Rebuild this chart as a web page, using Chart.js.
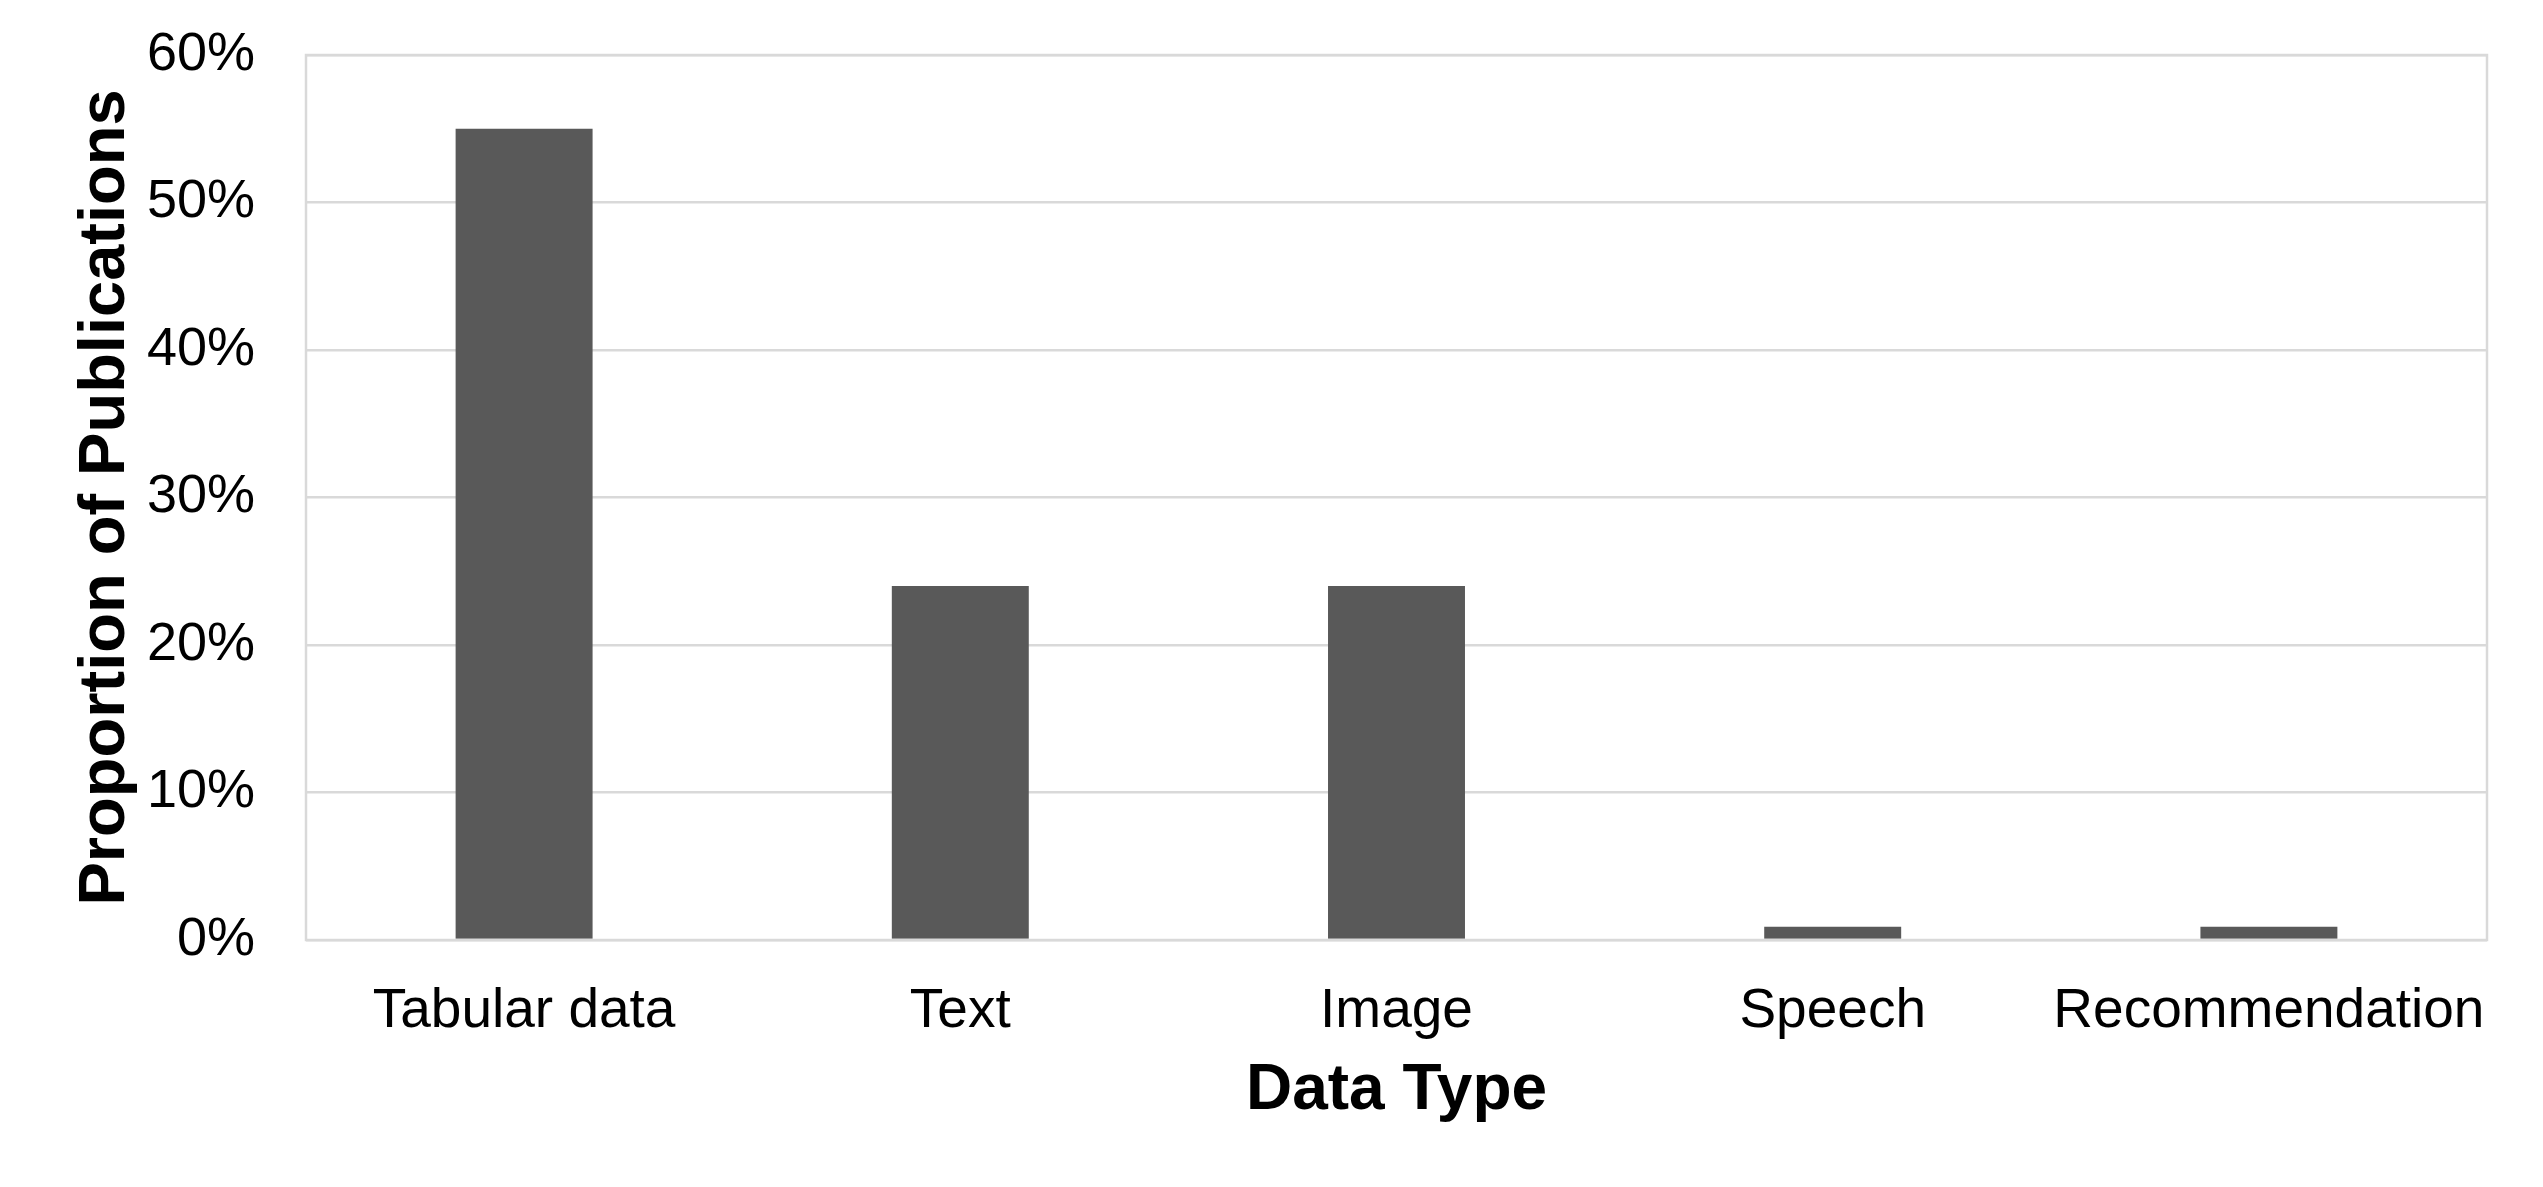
<!DOCTYPE html>
<html>
<head>
<meta charset="utf-8">
<script src="https://cdn.jsdelivr.net/npm/chart.js@4.4.1/dist/chart.umd.min.js"></script>
<style>
  html, body { margin: 0; padding: 0; background: #ffffff; }
  #wrap { width: 2543px; height: 1187px; }
</style>
</head>
<body>
<div id="wrap"><canvas id="c" width="2543" height="1187"></canvas></div>
<script>
const categories = ["Tabular data", "Text", "Image", "Speech", "Recommendation"];
const proportions = [55, 24, 24, 0.9, 0.9];
const yTickValues = [0, 10, 20, 30, 40, 50, 60];
const xTitle = "Data Type";
const yTitle = "Proportion of Publications";

const FONT = "'Liberation Sans', Arial, Helvetica, sans-serif";
const GRID = "#d9d9d9";

const frame = {
  id: 'frame',
  afterDatasetsDraw(chart) {
    const a = chart.chartArea, ctx = chart.ctx;
    ctx.save();
    ctx.strokeStyle = GRID;
    ctx.lineWidth = 2.5;
    ctx.strokeRect(a.left, a.top, a.right - a.left, a.bottom - a.top);
    ctx.restore();
  }
};

new Chart(document.getElementById('c'), {
  type: 'bar',
  data: {
    labels: categories,
    datasets: [{
      data: proportions,
      backgroundColor: '#595959',
      borderWidth: 0,
      categoryPercentage: 1.0,
      barPercentage: 0.314
    }]
  },
  options: {
    responsive: false,
    animation: false,
    devicePixelRatio: 1,
    layout: { padding: { top: 55, right: 56, bottom: 0, left: 0 } },
    plugins: { legend: { display: false }, tooltip: { enabled: false } },
    scales: {
      x: {
        grid: { display: false, drawTicks: false },
        border: { display: false },
        ticks: { color: '#000', font: { family: FONT, size: 55 }, padding: 39, maxRotation: 0, autoSkip: false },
        title: { display: true, text: xTitle, color: '#000', font: { family: FONT, size: 64, weight: 'bold' }, padding: { top: 0, bottom: 57 } },
        afterFit(s) { s.height = 1187 - 940; s.paddingLeft = 0; s.paddingRight = 0; }
      },
      y: {
        min: 0, max: 60,
        afterBuildTicks(s) { s.ticks = yTickValues.map(v => ({ value: v })); },
        grid: { color: GRID, lineWidth: 2.5, drawTicks: false },
        border: { display: false },
        ticks: { color: '#000', font: { family: FONT, size: 54 }, padding: 51, callback: v => v + '%' },
        title: { display: true, text: yTitle, color: '#000', font: { family: FONT, size: 65, weight: 'bold' }, padding: { top: 67, bottom: 0 } },
        afterFit(s) { s.width = 306; s.paddingTop = 0; s.paddingBottom = 0; }
      }
    }
  },
  plugins: [frame]
});
</script>
</body>
</html>
